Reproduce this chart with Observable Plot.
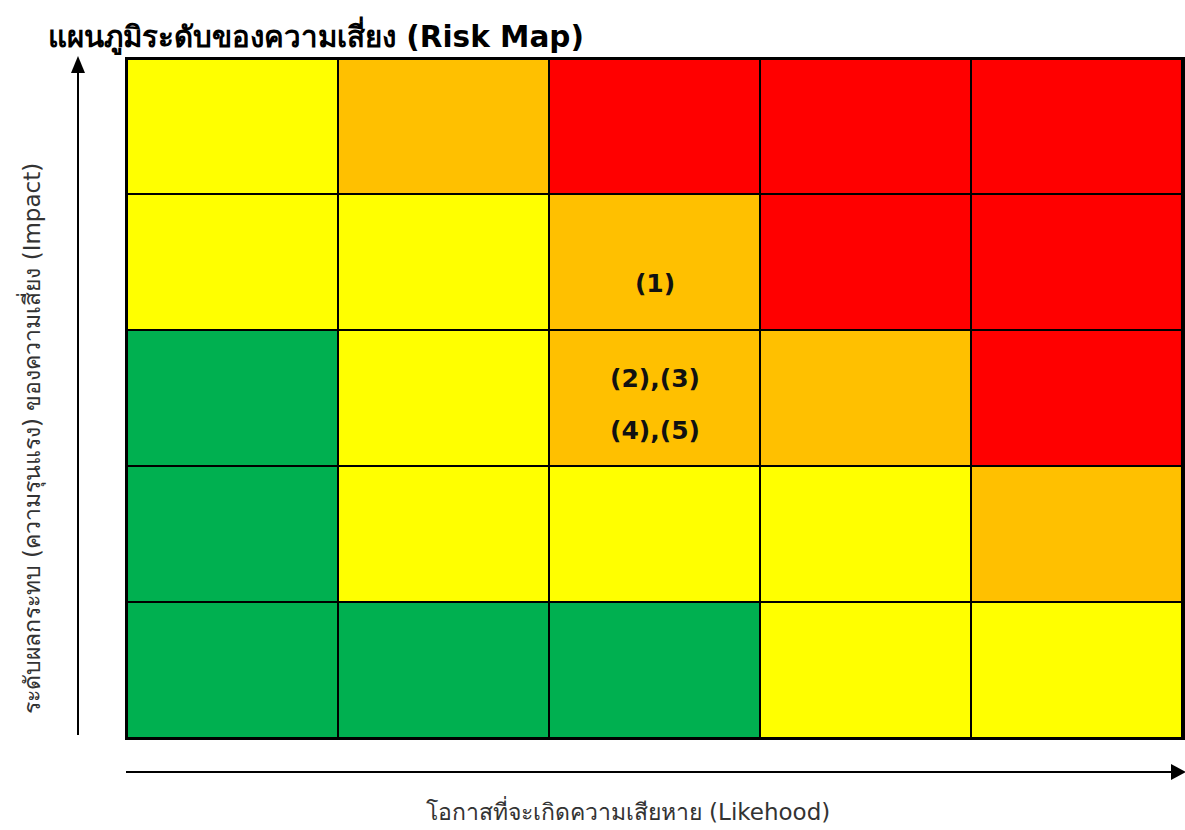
<!DOCTYPE html>
<html>
<head>
<meta charset="utf-8">
<script src="https://cdn.jsdelivr.net/npm/d3@7"></script>
<script src="https://cdn.jsdelivr.net/npm/@observablehq/plot@0.6"></script>
<style>
  html, body { margin: 0; padding: 0; background: #fff; }
  #title { height: 52px; box-sizing: border-box; padding: 21px 0 0 48px; font: 600 29.5px "DejaVu Sans", "Noto Sans", sans-serif; line-height: 32px; color: #000; white-space: nowrap; }
  svg { display: block; }
</style>
</head>
<body>
<div id="title">แผนภูมิระดับของความเสี่ยง (Risk Map)</div>
<div id="chart"></div>
<script>
// Likelihood (columns, left → right) and impact (rows, top → bottom)
const likelihood = [1, 2, 3, 4, 5];
const impact = [5, 4, 3, 2, 1];

// Risk level of each cell, one array per impact row
const impact5 = ["medium", "high", "veryHigh", "veryHigh", "veryHigh"];
const impact4 = ["medium", "medium", "high", "veryHigh", "veryHigh"];
const impact3 = ["low", "medium", "high", "high", "veryHigh"];
const impact2 = ["low", "medium", "medium", "medium", "high"];
const impact1 = ["low", "low", "low", "medium", "medium"];

const levelNames = ["low", "medium", "high", "veryHigh"];
const levelColors = ["#00B050", "#FFFF00", "#FFC000", "#FF0000"];

// Risk items placed on the map
const riskLabels = ["(1)", "(2),(3)\n(4),(5)"];
const riskLikelihood = [3, 3];
const riskImpact = [4, 3];
const riskOffset = [13, -2];

const xLabel = "โอกาสที่จะเกิดความเสียหาย (Likehood)";
const yLabel = "ระดับผลกระทบ (ความรุนแรง) ของความเสี่ยง (Impact)";

const rows = [impact5, impact4, impact3, impact2, impact1];
const cells = [];
rows.forEach((row, i) => row.forEach((level, j) => cells.push({x: likelihood[j], y: impact[i], level})));
const risks = riskLabels.map((label, i) => ({label, x: riskLikelihood[i], y: riskImpact[i], dy: riskOffset[i]}));

const font = '"DejaVu Sans", "Noto Sans", sans-serif';

const plot = Plot.plot({
  width: 1185,
  height: 778,
  marginTop: 6,
  marginBottom: 92,
  marginLeft: 126,
  marginRight: 2,
  style: {fontFamily: font, background: "#fff"},
  x: {domain: likelihood, padding: 0, axis: null},
  y: {domain: impact, padding: 0, axis: null},
  color: {domain: levelNames, range: levelColors},
  marks: [
    Plot.cell(cells, {x: "x", y: "y", fill: "level", stroke: "#000", strokeWidth: 2}),
    Plot.frame({stroke: "#000", strokeWidth: 3}),
    ...risks.map(r => Plot.text([r], {x: "x", y: "y", text: "label", dy: r.dy, fontSize: 25, fontWeight: "bold", fill: "#111", lineHeight: 2.08})),
    Plot.text([xLabel], {frameAnchor: "bottom", dy: 81, dx: -27, fontSize: 23, fill: "#333"}),
    Plot.text([yLabel], {frameAnchor: "left", textAnchor: "middle", rotate: -90, dx: -94, dy: 40, fontSize: 23, fill: "#333"})
  ]
});

document.getElementById("chart").appendChild(plot);

// Axis arrows, placed from the plot's own scale ranges
const svg = d3.select(plot);
const xr = plot.scale("x").range;
const yr = plot.scale("y").range;
const x0 = Math.min(...xr), x1 = Math.max(...xr);
const y0 = Math.min(...yr), y1 = Math.max(...yr);
const ax = x0 - 48;
const ay = y1 + 34;
const g = svg.append("g").attr("fill", "#000").attr("stroke", "#000");
g.append("line").attr("x1", ax).attr("x2", ax).attr("y1", y1 - 3).attr("y2", y0 + 14).attr("stroke-width", 2);
g.append("path").attr("stroke", "none").attr("d", `M${ax},${y0 - 2}L${ax - 7},${y0 + 15}L${ax + 7},${y0 + 15}Z`);
g.append("line").attr("x1", x0).attr("x2", x1 - 10).attr("y1", ay).attr("y2", ay).attr("stroke-width", 2);
g.append("path").attr("stroke", "none").attr("d", `M${x1 + 3},${ay}L${x1 - 12},${ay - 8}L${x1 - 12},${ay + 8}Z`);
</script>
</body>
</html>
